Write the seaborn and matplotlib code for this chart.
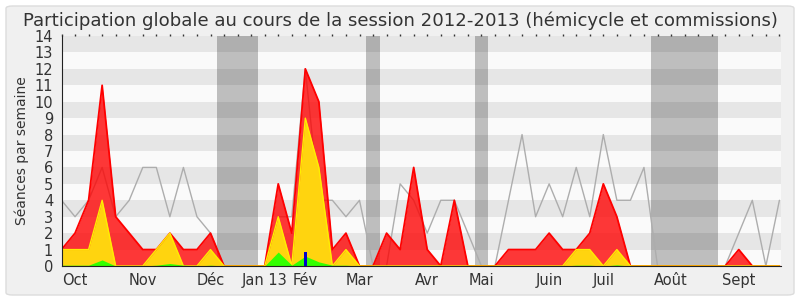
import numpy as np
import pandas as pd
import matplotlib
matplotlib.use("Agg")
import matplotlib.pyplot as plt
import seaborn as sns
from matplotlib.patches import FancyBboxPatch

# ---- data (weekly, session 2012-2013) ----
semaines = list(range(54))
seances_total = [1, 2, 4, 11, 3, 2, 1, 1, 2, 1, 1, 2, 0, 0, 0, 0, 5, 2, 12, 10,
                 1, 2, 0, 0, 2, 1, 6, 1, 0, 4, 0, 0, 0, 1, 1, 1, 2, 1, 1, 2,
                 5, 3, 0, 0, 0, 0, 0, 0, 0, 0, 1, 0, 0, 0]
seances_hemicycle = [1, 1, 1, 4, 0, 0, 0, 1, 2, 0, 0, 1, 0, 0, 0, 0, 3, 0, 9, 6,
                     0, 1, 0, 0, 0, 0, 0, 0, 0, 0, 0, 0, 0, 0, 0, 0, 0, 0, 1, 1,
                     0, 1, 0, 0, 0, 0, 0, 0, 0, 0, 0, 0, 0, 0]
interventions = [0.05, 0.05, 0.05, 0.37, 0, 0, 0, 0.05, 0.15, 0.05, 0, 0.05, 0, 0, 0, 0, 0.85, 0.05, 0.6, 0.25,
                 0.05, 0.05, 0, 0, 0, 0, 0, 0, 0, 0, 0, 0, 0, 0, 0, 0, 0, 0, 0.05, 0.05,
                 0, 0.07, 0, 0, 0, 0, 0, 0, 0, 0, 0, 0, 0, 0]
questions_semaine = [18]
questions_valeur = [0.85]
mediane = [4, 3, 4, 6, 3, 4, 6, 6, 3, 6, 3, 2, 0, 0, 0, 0, 3, 3, 12, 4,
           4, 3, 4, 0, 0, 5, 4, 2, 4, 4, 2, 0, 0, 4, 8, 3, 5, 3, 6, 3,
           8, 4, 4, 6, 0, 0, 0, 0, 0, 0, 2, 4, 0, 4]
mois_labels = ["Oct", "Nov", "Déc", "Jan 13", "Fév", "Mar", "Avr", "Mai", "Juin", "Juil", "Août", "Sept"]
mois_semaines = [1, 6, 11, 15, 18, 22, 27, 31, 36, 40, 45, 50]
vacances = [(11.5, 14.5), (22.5, 23.5), (30.5, 31.5), (43.5, 48.5)]

df = pd.DataFrame({"semaine": semaines, "total": seances_total, "hemi": seances_hemicycle,
                   "interv": interventions, "mediane": mediane})

sns.set_style("white")
plt.rcParams['font.family'] = ['DejaVu Sans']

fig = plt.figure(figsize=(8, 3), dpi=100)
fig.patch.set_facecolor('white')
fig.patches.append(FancyBboxPatch((6 / 800, 5 / 300), 788 / 800, 289 / 300,
                                  boxstyle="round,pad=0,rounding_size=0.008",
                                  transform=fig.transFigure, facecolor='#F0F0F0',
                                  edgecolor='#DCDCDC', linewidth=1, zorder=-10))

ax = fig.add_axes([61.5 / 800, 34 / 300, (780.5 - 61.5) / 800, 230 / 300])
ax.set_facecolor('#FAFAFA')
ax.set_xlim(0, 53.08)
ax.set_ylim(0, 14)

for k in range(1, 14, 2):
    ax.axhspan(k, k + 1, color='#E6E6E6', lw=0, zorder=0)
for a, b in vacances:
    ax.axvspan(a, b, color='black', alpha=0.24, lw=0, zorder=1)

sns.lineplot(data=df, x="semaine", y="mediane", color='#ADADAD', lw=1, ax=ax, zorder=2)

ax.fill_between(df["semaine"], df["total"], color='#FF0000', alpha=0.78, lw=0, zorder=3)
sns.lineplot(data=df, x="semaine", y="total", color='#FF0000', lw=1.3, ax=ax, zorder=4)
ax.fill_between(df["semaine"], df["hemi"], color='#FFD40F', lw=0, zorder=5)
sns.lineplot(data=df, x="semaine", y="hemi", color='#FFEE00', lw=1.0, ax=ax, zorder=6)
ax.fill_between(df["semaine"], df["interv"], color='#33FF00', lw=0, zorder=7)
ax.bar(questions_semaine, questions_valeur, width=0.25, color='#0000CC',
       linewidth=0, edgecolor='none', zorder=8)

ax.set_xlabel("")
ax.set_ylabel("Séances par semaine", fontsize=10, color='#333333', labelpad=4)

ax.set_yticks(range(0, 15))
ax.set_yticklabels([str(v) for v in range(0, 15)], fontsize=10.5, color='#333333')
ax.set_xticks(semaines)
lab = [""] * len(semaines)
for m, w in zip(mois_labels, mois_semaines):
    lab[w] = m
ax.set_xticklabels(lab, fontsize=10.5, color='#333333')
ax.tick_params(axis='x', direction='out', length=4, width=1, color='#333333', pad=1,
               top=True, labeltop=False)
ax.tick_params(axis='y', direction='out', length=4, width=1, color='#333333', pad=2)

for s in ['top', 'right']:
    ax.spines[s].set_visible(False)
ax.spines['left'].set_color('#222222')
ax.spines['bottom'].set_color('#222222')
ax.spines['left'].set_zorder(10)
ax.spines['bottom'].set_zorder(10)

for t in ax.xaxis.get_major_ticks():
    t.tick2line.set_markersize(1.5)

fig.text(0.5, 1 - 26.5 / 300, "Participation globale au cours de la session 2012-2013 (hémicycle et commissions)",
         ha='center', va='baseline', fontsize=13.1, color='#333333')

fig.savefig("out.png", dpi=100)
